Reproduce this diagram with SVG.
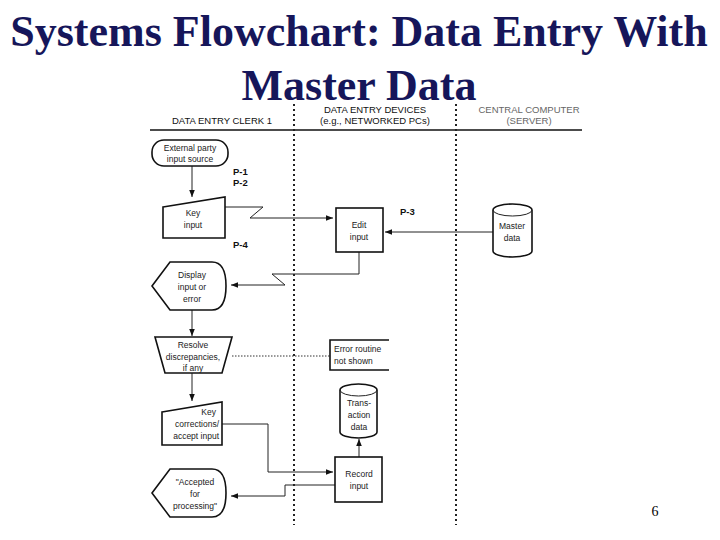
<svg xmlns="http://www.w3.org/2000/svg" width="720" height="540" viewBox="0 0 720 540">
<style>
.t{font-family:"Liberation Serif",serif;font-weight:bold;font-size:44px;fill:#16165a;text-anchor:middle}
.h{font-family:"Liberation Sans",Arial,sans-serif;font-size:9.5px;fill:#111;text-anchor:middle}
.g{fill:#666}
.s{font-family:"Liberation Sans",Arial,sans-serif;font-size:8.5px;fill:#222;text-anchor:middle}
.l{text-anchor:start}
.r{text-anchor:end}
.b{font-family:"Liberation Sans",Arial,sans-serif;font-size:9.5px;font-weight:bold;fill:#111}
.n{fill:#fff;stroke:#111;stroke-width:1.6}
.c{fill:none;stroke:#222;stroke-width:1}
.d{fill:none;stroke:#222;stroke-width:2;stroke-dasharray:2 3}
</style>
<defs><marker id="a" viewBox="0 0 10 10" refX="10" refY="5" markerWidth="7" markerHeight="7" orient="auto"><path d="M0,1 L10,5 L0,9 z" fill="#111"/></marker></defs>
<rect width="720" height="540" fill="#fff"/>
<text class="t" x="359" y="46">Systems Flowchart: Data Entry With</text>
<text class="t" x="359" y="100">Master Data</text>
<text x="655" y="516" font-family="Liberation Serif,serif" font-size="14" text-anchor="middle">6</text>
<g id="lanes">
<line x1="150" y1="130" x2="582" y2="130" stroke="#111" stroke-width="1.5"/>
<line class="d" x1="294" y1="104" x2="294" y2="525"/>
<line class="d" x1="456" y1="104" x2="456" y2="525"/>
<text class="h" x="222" y="124">DATA ENTRY CLERK 1</text>
<text class="h" x="375" y="113">DATA ENTRY DEVICES</text>
<text class="h" x="375" y="124">(e.g., NETWORKED PCs)</text>
<text class="h g" x="529" y="113">CENTRAL COMPUTER</text>
<text class="h g" x="529" y="124">(SERVER)</text>
<text class="b" x="233" y="175">P-1</text>
<text class="b" x="233" y="186">P-2</text>
<text class="b" x="233" y="248">P-4</text>
<text class="b" x="400" y="215">P-3</text>
</g>
<g id="connectors">
<line class="c" x1="192" y1="166" x2="192" y2="197" marker-end="url(#a)"/>
<polyline class="c" points="225,207 263,207 250,218 333,218" marker-end="url(#a)"/>
<line class="c" x1="493" y1="232" x2="385" y2="232" marker-end="url(#a)"/>
<polyline class="c" points="359,252 359,274 272,274 285,285 231,285" marker-end="url(#a)"/>
<line class="c" x1="192" y1="310" x2="192" y2="336" marker-end="url(#a)"/>
<line x1="232" y1="356" x2="330" y2="356" stroke="#333" stroke-width="1" stroke-dasharray="1.5 1.5"/>
<line class="c" x1="192" y1="373" x2="192" y2="401" marker-end="url(#a)"/>
<polyline class="c" points="222,424 268,424 268,472 333,472" marker-end="url(#a)"/>
<line class="c" x1="359" y1="457" x2="359" y2="439" marker-end="url(#a)"/>
<polyline class="c" points="335,485 285,485 285,496 231,496" marker-end="url(#a)"/>
</g>
<g id="external"><rect class="n" x="152" y="140" width="76" height="26" rx="12"/><text class="s" x="190" y="151">External party</text><text class="s" x="190" y="162">input source</text></g>
<g id="keyinput"><path class="n" d="M163,207 L225,197 L225,238 L163,238 Z"/><text class="s" x="193" y="216">Key</text><text class="s" x="193" y="228">input</text></g>
<g id="edit"><rect class="n" x="336" y="208" width="47" height="44"/><text class="s" x="359" y="228">Edit</text><text class="s" x="359" y="240">input</text></g>
<g id="master"><path class="n" d="M493,210 A19.5,6 0 0 1 532,210 L532,251 A19.5,6 0 0 1 493,251 Z"/><path class="c" d="M493,210 A19.5,6 0 0 0 532,210"/><text class="s" x="512" y="229">Master</text><text class="s" x="512" y="241">data</text></g>
<g id="display"><path class="n" d="M152,286 L170,262 L212,262 Q226,262 226,286 Q226,310 212,310 L170,310 Z"/><text class="s" x="192" y="278">Display</text><text class="s" x="192" y="290">input or</text><text class="s" x="192" y="302">error</text></g>
<g id="resolve"><path class="n" d="M155,337 L232,337 L222,373 L165,373 Z"/><text class="s" x="193" y="348">Resolve</text><text class="s" x="193" y="360">discrepancies,</text><text class="s" x="193" y="371">if any</text></g>
<g id="error"><path class="n" d="M389,340 L330,340 L330,370 L389,370"/><text class="s l" x="334" y="352">Error routine</text><text class="s l" x="334" y="364">not shown</text></g>
<g id="keycorr"><path class="n" d="M162,412 L222,402 L222,445 L162,445 Z"/><text class="s r" x="216" y="415">Key</text><text class="s r" x="219" y="427">corrections/</text><text class="s r" x="219" y="439">accept input</text></g>
<g id="trans"><path class="n" d="M340,390 A18.5,6 0 0 1 377,390 L377,432 A18.5,6 0 0 1 340,432 Z"/><path class="c" d="M340,390 A18.5,6 0 0 0 377,390"/><text class="s" x="359" y="406">Trans-</text><text class="s" x="359" y="418">action</text><text class="s" x="359" y="430">data</text></g>
<g id="record"><rect class="n" x="335" y="457" width="47" height="45"/><text class="s" x="359" y="477">Record</text><text class="s" x="359" y="489">input</text></g>
<g id="accepted"><path class="n" d="M152,493 L170,469 L212,469 Q226,469 226,493 Q226,517 212,517 L170,517 Z"/><text class="s" x="195" y="485">"Accepted</text><text class="s" x="195" y="497">for</text><text class="s" x="195" y="509">processing"</text></g>
</svg>
